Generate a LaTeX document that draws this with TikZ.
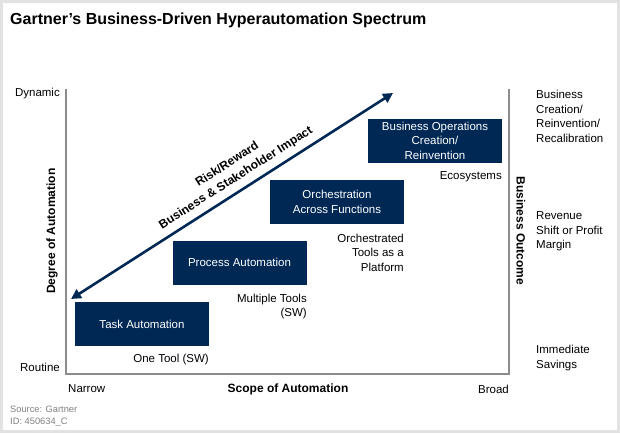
\documentclass[tikz,border=0pt]{standalone}
\usepackage{fontspec}
\setmainfont{Liberation Sans}
\usetikzlibrary{arrows.meta}
\definecolor{navy}{RGB}{0,40,85}
\definecolor{axisgrey}{RGB}{140,140,140}
\definecolor{srcgrey}{RGB}{128,128,128}
\definecolor{framegrey}{RGB}{226,226,226}
\tikzset{
  txt/.style={inner sep=0pt, font=\fontsize{11.5}{14.5}\selectfont, text=black},
  btxt/.style={inner sep=0pt, font=\bfseries\fontsize{12}{16}\selectfont, text=black},
  stagebox/.style={fill=navy, draw=none, minimum width=134pt, minimum height=44pt, inner sep=0pt,
     text=white, align=center, font=\fontsize{11.5}{14.5}\selectfont},
  axisline/.style={draw=axisgrey, line width=1.5pt},
  bigarrow/.style={draw=navy, line width=2.6pt, {Triangle[length=10pt,width=10pt]}-{Triangle[length=10pt,width=10pt]}},
  srctxt/.style={inner sep=0pt, font=\fontsize{9.3}{12}\selectfont, text=srcgrey, anchor=west},
}
\begin{document}
\begin{tikzpicture}[x=1pt,y=-1pt]
\useasboundingbox (0,0) rectangle (620,433);
\fill[white] (0,0) rectangle (620,433);
\draw[framegrey, line width=3pt] (1.5,1.5) rectangle (618.5,431.5);

% title
\node[inner sep=0pt, anchor=west, font=\bfseries\fontsize{16}{19}\selectfont] (title) at (10,20) {Gartner’s Business-Driven Hyperautomation Spectrum};

% axes
\coordinate (tl) at (66,89);
\coordinate (bl) at (66,374);
\coordinate (br) at (509,374);
\coordinate (tr) at (509,89);
\draw[axisline] (tl) -- (bl) -- (br) -- (tr);

% axis labels
\node[txt, anchor=east] (dyn) at (60,94) {Dynamic};
\node[txt, anchor=east] (rout) at (60,367) {Routine};
\node[txt, anchor=west] (narrow) at (68,389) {Narrow};
\node[btxt] (scope) at (288,389) {Scope of Automation};
\node[txt, anchor=east] (broad) at (509,389) {Broad};
\node[btxt, rotate=90] (degree) at (52,231) {Degree of Automation};
\node[btxt, rotate=-90] (outcome) at (521,231) {Business Outcome};

% right column
\node[txt, anchor=west, align=left] (r1) at (536,116.5) {Business\\Creation/\\Reinvention/\\Recalibration};
\node[txt, anchor=west, align=left] (r2) at (536,231.5) {Revenue\\Shift or Profit\\Margin};
\node[txt, anchor=west, align=left] (r3) at (536,358) {Immediate\\Savings};

% stage boxes
\node[stagebox] (task) at (142,324) {Task Automation};
\node[stagebox] (proc) at (239.5,262.5) {Process Automation};
\node[stagebox] (orch) at (337,202) {Orchestration\\Across Functions};
\node[stagebox] (bizops) at (435,140.5) {Business Operations\\Creation/\\Reinvention};

% stage captions
\node[txt, anchor=east] (c1) at (209,360) {One Tool (SW)};
\node[txt, anchor=east, align=right] (c2) at (307,306.5) {Multiple Tools\\(SW)};
\node[txt, anchor=east, align=right] (c3) at (404,252.5) {Orchestrated\\Tools as a\\Platform};
\node[txt, anchor=east] (c4) at (502,177) {Ecosystems};

% diagonal arrow
\coordinate (alow) at (71,299);
\coordinate (ahigh) at (393,93);
\draw[bigarrow] (alow) -- (ahigh)
  node[pos=0.534, sloped, above=6pt, btxt, align=center] (risk) {Risk/Reward\\Business \& Stakeholder Impact};

% source
\node[srctxt] (src) at (10,409) {Source: Gartner};
\node[srctxt] (id) at (10,422) {ID: 450634\_C};
\end{tikzpicture}
\end{document}
